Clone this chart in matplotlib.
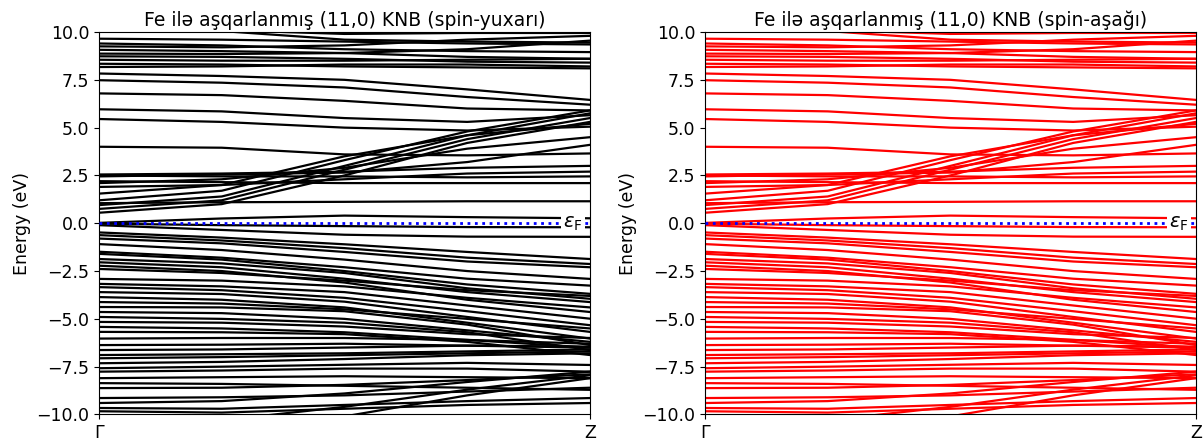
import matplotlib
matplotlib.use('Agg')
import matplotlib.pyplot as plt
import numpy as np

# k-path sample points (fraction of Γ -> Z)
kpts = [0.0, 0.25, 0.5, 0.75, 1.0]
klabels = ['Γ', 'Z']

# band energies (eV) read at the k points above, spin-up
bands_up = [
    # above the window / top cluster
    [10.8, 10.05, 9.6, 9.5, 9.45],
    [10.4, 10.1, 9.9, 9.95, 9.95],
    [9.65, 9.6, 9.5, 9.4, 9.35],
    [9.4, 9.3, 9.1, 9.0, 8.95],
    [9.25, 9.2, 9.3, 9.6, 9.8],
    [9.07, 9.0, 8.9, 8.7, 8.6],
    [8.87, 8.85, 8.9, 9.1, 9.55],
    [8.73, 8.7, 8.6, 8.45, 8.4],
    [8.55, 8.5, 8.5, 8.55, 8.6],
    [8.34, 8.3, 8.2, 8.15, 8.1],
    [8.17, 8.2, 8.3, 8.3, 8.2],
    [7.83, 7.7, 7.5, 7.0, 6.45],
    [7.48, 7.35, 7.1, 6.6, 6.2],
    [6.79, 6.7, 6.4, 6.0, 5.9],
    [5.96, 5.85, 5.5, 5.3, 5.65],
    [5.45, 5.3, 5.0, 4.85, 5.05],
    [4.0, 3.95, 3.6, 3.55, 3.65],
    # rising fan
    [0.55, 1.0, 2.5, 4.2, 5.3],
    [0.75, 1.2, 2.8, 4.4, 5.5],
    [0.95, 1.4, 3.0, 4.6, 5.75],
    [1.2, 1.7, 3.3, 4.8, 5.9],
    [1.55, 2.0, 3.5, 4.6, 5.2],
    [2.1, 2.3, 2.9, 3.9, 4.5],
    [2.45, 2.55, 2.65, 3.2, 4.1],
    [2.55, 2.6, 2.7, 2.9, 3.0],
    [2.2, 2.15, 2.1, 2.1, 2.1],
    [2.5, 2.45, 2.45, 2.4, 2.45],
    [1.9, 2.0, 2.3, 2.6, 2.7],
    [1.05, 1.1, 1.12, 1.15, 1.15],
    # around the Fermi level
    [0.02, 0.25, 0.4, 0.32, 0.26],
    [-0.02, -0.1, -0.15, -0.2, -0.21],
    [-0.1, -0.35, -0.6, -0.7, -0.71],
    # valence bands
    [-0.48, -0.75, -1.1, -1.5, -1.87],
    [-0.62, -0.9, -1.3, -1.8, -2.13],
    [-0.8, -1.05, -1.5, -2.0, -2.3],
    [-1.09, -1.4, -1.9, -2.5, -2.91],
    [-1.49, -1.8, -2.3, -2.9, -3.26],
    [-1.6, -1.9, -2.5, -3.2, -3.69],
    [-1.87, -2.1, -2.6, -3.4, -3.95],
    [-2.04, -2.3, -2.9, -3.6, -4.12],
    [-2.22, -2.5, -3.1, -4.0, -4.64],
    [-2.39, -2.6, -3.0, -3.5, -3.8],
    [-2.91, -3.0, -3.3, -3.9, -4.4],
    [-3.17, -3.3, -3.6, -4.3, -4.99],
    [-3.34, -3.5, -3.9, -4.6, -5.33],
    [-3.6, -3.7, -4.1, -4.9, -5.68],
    [-3.86, -4.0, -4.4, -5.2, -6.03],
    [-4.12, -4.2, -4.5, -5.0, -5.5],
    [-4.38, -4.4, -4.6, -5.3, -6.37],
    [-4.64, -4.7, -5.0, -5.6, -6.2],
    [-4.9, -5.0, -5.2, -5.7, -6.63],
    [-5.16, -5.2, -5.4, -5.8, -6.0],
    [-5.42, -5.5, -5.7, -6.1, -6.5],
    [-5.68, -5.7, -5.8, -6.2, -6.89],
    [-6.03, -6.0, -6.0, -6.1, -6.3],
    [-6.37, -6.35, -6.3, -6.4, -6.5],
    [-6.63, -6.6, -6.5, -6.4, -6.45],
    [-6.89, -6.85, -6.8, -6.7, -6.6],
    [-7.06, -7.0, -6.9, -6.8, -6.7],
    [-7.32, -7.25, -7.1, -6.9, -6.8],
    [-7.58, -7.5, -7.4, -7.3, -7.41],
    [-7.76, -7.7, -7.6, -7.6, -7.76],
    [-8.1, -8.05, -8.0, -8.05, -8.1],
    [-8.36, -8.4, -8.5, -8.6, -8.71],
    [-8.62, -8.6, -8.45, -8.2, -7.9],
    [-9.14, -9.1, -9.0, -8.8, -8.6],
    [-9.4, -9.3, -8.9, -8.3, -7.76],
    [-9.66, -9.7, -9.5, -9.3, -9.14],
    [-9.83, -9.9, -9.7, -9.5, -9.4],
    [-10.5, -10.3, -9.6, -8.7, -7.95],
    [-11.0, -10.8, -10.1, -9.0, -8.1],
]

# spin-down bands look the same at this scale
bands_dn = [row[:] for row in bands_up]

titles = ['Fe ilə aşqarlanmış (11,0) KNB (spin-yuxarı)',
          'Fe ilə aşqarlanmış (11,0) KNB (spin-aşağı)']
colors = ['black', 'red']
e_fermi = 0.0

fig = plt.figure(figsize=(12.03, 4.41), dpi=100)
axes = [fig.add_axes([0.0823, 0.0601, 0.4081, 0.8673]),
        fig.add_axes([0.586, 0.0601, 0.4081, 0.8673])]

for ax, bands, color, title in zip(axes, [bands_up, bands_dn], colors, titles):
    for band in bands:
        ax.plot(kpts, band, color=color, lw=1.6)
    ax.axhline(e_fermi, color='blue', ls=':', lw=2, zorder=3)
    ax.text(0.965, e_fermi, r'$\varepsilon_\mathrm{F}$', fontsize=14,
            ha='center', va='center', zorder=4,
            bbox=dict(facecolor='white', edgecolor='none', pad=1.5))
    ax.set_xlim(kpts[0], kpts[-1])
    ax.set_ylim(-10, 10)
    ax.set_yticks(np.arange(-10, 10.1, 2.5))
    ax.set_xticks([kpts[0], kpts[-1]])
    ax.set_xticklabels(klabels)
    ax.set_ylabel('Energy (eV)', fontsize=12.5)
    ax.set_title(title, fontsize=13.5, pad=4)
    ax.tick_params(labelsize=12.5)

fig.savefig('out.png', dpi=100)
